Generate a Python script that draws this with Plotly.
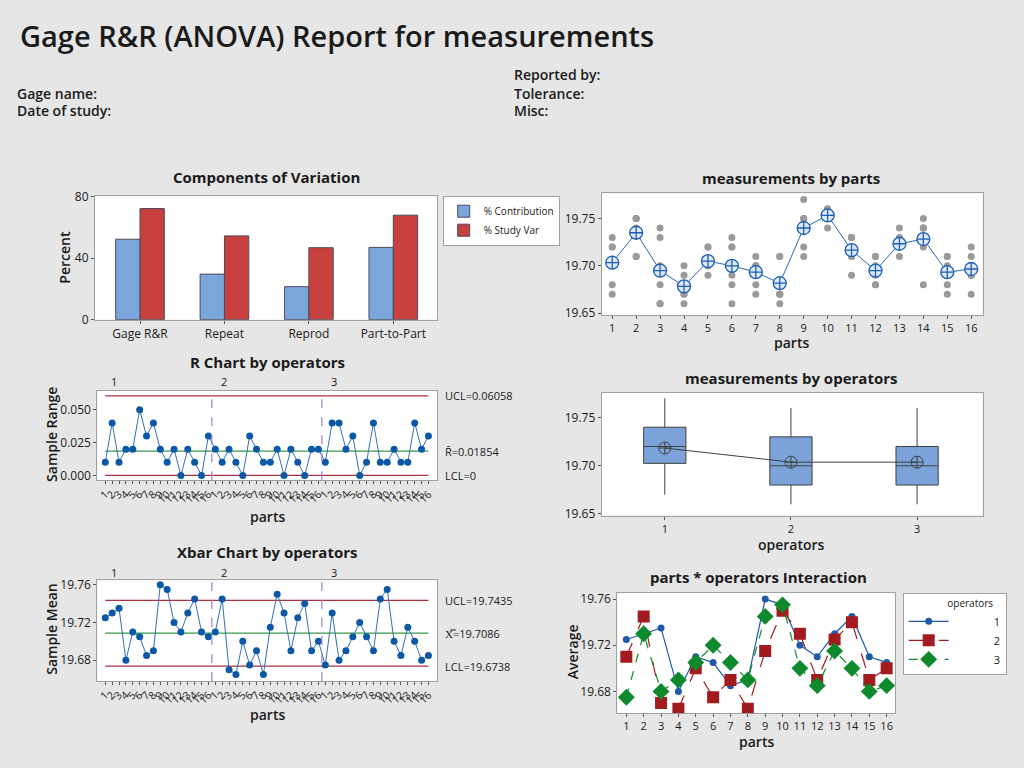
import numpy as np
import plotly.graph_objects as go

# ---------------- data ----------------
components = ["Gage R&R", "Repeat", "Reprod", "Part-to-Part"]
pct_contribution = [52.3, 29.6, 21.4, 47.0]
pct_study_var = [72.3, 54.5, 46.8, 68.0]

parts = list(range(1, 17))
operators = [1, 2, 3]

# two trials per operator for each part
op1_trial1 = [19.72, 19.71, 19.73, 19.67, 19.70, 19.68, 19.67, 19.67, 19.75, 19.75, 19.71, 19.71, 19.72, 19.74, 19.71, 19.69]
op1_trial2 = [19.73, 19.75, 19.74, 19.69, 19.72, 19.73, 19.70, 19.71, 19.77, 19.76, 19.73, 19.71, 19.74, 19.75, 19.71, 19.72]
op2_trial1 = [19.70, 19.74, 19.66, 19.66, 19.70, 19.66, 19.68, 19.66, 19.71, 19.74, 19.73, 19.68, 19.72, 19.74, 19.68, 19.69]
op2_trial2 = [19.72, 19.75, 19.68, 19.67, 19.70, 19.69, 19.70, 19.67, 19.72, 19.76, 19.73, 19.70, 19.73, 19.74, 19.70, 19.71]
op3_trial1 = [19.67, 19.71, 19.66, 19.68, 19.69, 19.72, 19.70, 19.67, 19.74, 19.75, 19.69, 19.68, 19.71, 19.68, 19.67, 19.67]
op3_trial2 = [19.68, 19.75, 19.70, 19.70, 19.72, 19.72, 19.71, 19.71, 19.75, 19.76, 19.71, 19.69, 19.72, 19.72, 19.69, 19.70]

D4_n2 = 3.267
A2_n2 = 1.880

# ---------------- statistics ----------------
trials = {1: (op1_trial1, op1_trial2), 2: (op2_trial1, op2_trial2), 3: (op3_trial1, op3_trial2)}
op_means = {o: np.round((np.array(a) + np.array(b)) / 2, 4) for o, (a, b) in trials.items()}
op_ranges = {o: np.round(np.abs(np.array(b) - np.array(a)), 4) for o, (a, b) in trials.items()}

seq = list(range(1, 49))
seq_labels = [str(p) for o in operators for p in parts]
r_vals = np.concatenate([op_ranges[o] for o in operators])
xbar_vals = np.concatenate([op_means[o] for o in operators])
rbar = r_vals.mean()
ucl_r = D4_n2 * rbar
lcl_r = 0.0
xbarbar = xbar_vals.mean()
ucl_x = xbarbar + A2_n2 * rbar
lcl_x = xbarbar - A2_n2 * rbar

part_x, part_y = [], []
for o in operators:
    for t in trials[o]:
        part_x += parts
        part_y += list(t)
part_means = [np.mean([trials[o][k][i] for o in operators for k in range(2)]) for i in range(16)]

op_all = {o: np.array(trials[o][0] + trials[o][1]) for o in operators}

def box_stats(v):
    q1, med, q3 = np.percentile(v, [25, 50, 75], method="weibull")
    iqr = q3 - q1
    lo = v[v >= q1 - 1.5 * iqr].min()
    hi = v[v <= q3 + 1.5 * iqr].max()
    return q1, med, q3, lo, hi

W, H = 1024, 768
def PX(x): return x / W
def PY(y): return 1 - y / H

FONT = "Open Sans"
BG = "#e6e6e6"
AX = "#a0a0a0"
TXT = "#1a1a1a"

fig = go.Figure()

# --- Components of Variation ---
fig.add_trace(go.Bar(x=components, y=pct_contribution, name="% Contribution",
                     marker=dict(color="#7ba6dc", line=dict(color="#4a4a5a", width=1)),
                     xaxis="x", yaxis="y", legend="legend"))
fig.add_trace(go.Bar(x=components, y=pct_study_var, name="% Study Var",
                     marker=dict(color="#c9413f", line=dict(color="#4a4a5a", width=1)),
                     xaxis="x", yaxis="y", legend="legend"))

# --- R chart ---
RED = "#a8323f"
GRN = "#3b9a4b"
DBL = "#0b58a6"
LBL = "#3070b8"
fig.add_trace(go.Scatter(x=[1, 48], y=[ucl_r, ucl_r], mode="lines", line=dict(color=RED, width=1.2),
                         xaxis="x2", yaxis="y2", showlegend=False))
fig.add_trace(go.Scatter(x=[1, 48], y=[rbar, rbar], mode="lines", line=dict(color=GRN, width=1.2),
                         xaxis="x2", yaxis="y2", showlegend=False))
fig.add_trace(go.Scatter(x=[1, 48], y=[lcl_r, lcl_r], mode="lines", line=dict(color=RED, width=1.2),
                         xaxis="x2", yaxis="y2", showlegend=False))
fig.add_trace(go.Scatter(x=seq, y=r_vals, mode="lines+markers", line=dict(color=LBL, width=1),
                         marker=dict(color=DBL, size=7), xaxis="x2", yaxis="y2", showlegend=False))

# --- Xbar chart ---
fig.add_trace(go.Scatter(x=[1, 48], y=[ucl_x, ucl_x], mode="lines", line=dict(color=RED, width=1.2),
                         xaxis="x3", yaxis="y3", showlegend=False))
fig.add_trace(go.Scatter(x=[1, 48], y=[xbarbar, xbarbar], mode="lines", line=dict(color=GRN, width=1.2),
                         xaxis="x3", yaxis="y3", showlegend=False))
fig.add_trace(go.Scatter(x=[1, 48], y=[lcl_x, lcl_x], mode="lines", line=dict(color=RED, width=1.2),
                         xaxis="x3", yaxis="y3", showlegend=False))
fig.add_trace(go.Scatter(x=seq, y=xbar_vals, mode="lines+markers", line=dict(color=LBL, width=1),
                         marker=dict(color=DBL, size=7), xaxis="x3", yaxis="y3", showlegend=False))

# --- measurements by parts ---
fig.add_trace(go.Scatter(x=part_x, y=part_y, mode="markers", marker=dict(color="#9a9a9a", size=7),
                         xaxis="x4", yaxis="y4", showlegend=False))
fig.add_trace(go.Scatter(x=parts, y=part_means, mode="lines+markers", line=dict(color="#2a68b5", width=1),
                         marker=dict(symbol="circle-cross", size=13, color="#dde9f8",
                                     line=dict(color="#1f5fb0", width=1.3)),
                         xaxis="x4", yaxis="y4", showlegend=False))

# --- measurements by operators (box) ---
for o in operators:
    q1, med, q3, lo, hi = box_stats(op_all[o])
    fig.add_trace(go.Box(x=[o], q1=[q1], median=[med], q3=[q3], lowerfence=[lo], upperfence=[hi],
                         fillcolor="#7ba3d9", line=dict(color="#404040", width=1), width=0.335,
                         whiskerwidth=0, xaxis="x5", yaxis="y5", showlegend=False, boxpoints=False))
fig.add_trace(go.Scatter(x=operators, y=[op_all[o].mean() for o in operators], mode="lines+markers",
                         line=dict(color="#404040", width=1),
                         marker=dict(symbol="circle-cross-open", size=12, color="#404040", line=dict(width=1)),
                         xaxis="x5", yaxis="y5", showlegend=False))

# --- interaction ---
NB = "\u00a0"
inter_style = {
    1: dict(color="#1f5aa6", dash="solid", symbol="circle", size=7),
    2: dict(color="#a11b1f", dash="longdash", symbol="square", size=12),
    3: dict(color="#0e8a2c", dash="dash", symbol="diamond", size=13),
}
for o in operators:
    s = inter_style[o]
    fig.add_trace(go.Scatter(x=parts, y=op_means[o], mode="lines+markers", name=NB * 14 + str(o),
                             line=dict(color=s["color"], dash=s["dash"], width=1.2),
                             marker=dict(color=s["color"], symbol=s["symbol"], size=s["size"]),
                             xaxis="x6", yaxis="y6", legend="legend2"))

def axis(domain, anchor, **kw):
    d = dict(domain=domain, anchor=anchor, showline=True, mirror=True, linecolor=AX, linewidth=1,
             ticks="outside", ticklen=3, tickcolor="#555555", showgrid=False, zeroline=False,
             tickfont=dict(family=FONT, size=12, color=TXT), fixedrange=True)
    d.update(kw)
    return d

# domains in pixels
xd_left = [PX(95), PX(436.7)]
xd_lr = [PX(97.3), PX(436.7)]
xd_right = [PX(601.7), PX(982.7)]
xd_int = [PX(617.3), PX(895)]

layout = dict(
    width=W, height=H, margin=dict(l=0, r=0, t=0, b=0),
    paper_bgcolor=BG, plot_bgcolor="white",
    font=dict(family=FONT, color=TXT),
    barmode="group", bargap=0.424, bargroupgap=0,
    xaxis=axis(xd_left, "y", range=[-0.533, 3.514], tickfont=dict(family=FONT, size=12, color=TXT)),
    yaxis=axis([PY(318.3), PY(192.3)], "x", range=[-0.1, 80.3], tickvals=[0, 40, 80]),
    xaxis2=axis(xd_lr, "y2", range=[-0.16, 49.2], tickvals=seq, ticktext=seq_labels, tickangle=-45,
                tickfont=dict(family=FONT, size=10.5, color=TXT), ticklen=3),
    yaxis2=axis([PY(482.3), PY(391)], "x2", range=[-0.0037, 0.0644], tickvals=[0, 0.025, 0.05],
                tickformat=".3f"),
    xaxis3=axis(xd_lr, "y3", range=[-0.16, 49.2], tickvals=seq, ticktext=seq_labels, tickangle=-45,
                tickfont=dict(family=FONT, size=10.5, color=TXT), ticklen=3),
    yaxis3=axis([PY(687.3), PY(584.3)], "x3", range=[19.658, 19.7649], tickvals=[19.68, 19.72, 19.76],
                tickformat=".2f"),
    xaxis4=axis(xd_right, "y4", range=[0.56, 16.48], tickvals=parts,
                tickfont=dict(family=FONT, size=11, color=TXT)),
    yaxis4=axis([PY(313.3), PY(189.3)], "x4", range=[19.6483, 19.7766], tickvals=[19.65, 19.70, 19.75],
                tickformat=".2f"),
    xaxis5=axis(xd_right, "y5", range=[0.5, 3.52], tickvals=operators, type="linear",
                tickfont=dict(family=FONT, size=11, color=TXT)),
    yaxis5=axis([PY(518.3), PY(393.3)], "x5", range=[19.6484, 19.7754], tickvals=[19.65, 19.70, 19.75],
                tickformat=".2f"),
    xaxis6=axis(xd_int, "y6", range=[0.48, 16.48], tickvals=parts,
                tickfont=dict(family=FONT, size=11, color=TXT)),
    yaxis6=axis([PY(720), PY(597.3)], "x6", range=[19.6613, 19.7654], tickvals=[19.68, 19.72, 19.76],
                tickformat=".2f"),
    legend=dict(x=PX(442.7), y=PY(191.7), xanchor="left", yanchor="top", bgcolor="white",
                bordercolor=AX, borderwidth=1, font=dict(family=FONT, size=10, color=TXT),
                tracegroupgap=0, itemwidth=30),
    legend2=dict(x=PX(902.7), y=PY(597.3), xanchor="left", yanchor="top", bgcolor="white",
                 bordercolor=AX, borderwidth=1, font=dict(family=FONT, size=11, color=TXT),
                 title=dict(text=NB * 16 + "operators", font=dict(family=FONT, size=10, color=TXT)),
                 tracegroupgap=0, itemwidth=40),
    showlegend=True,
)
fig.update_layout(**layout)

ann = []
def text(x, y, s, size=12, weight=400, xanchor="center", yanchor="middle", angle=0, xref="paper", yref="paper",
         xshift=0, color=TXT):
    ann.append(dict(x=x, y=y, xref=xref, yref=yref, text=s, showarrow=False, xanchor=xanchor, yanchor=yanchor,
                    textangle=angle, xshift=xshift,
                    font=dict(family=FONT, size=size, color=color, weight=weight)))

# header
text(PX(18), PY(28), "Gage R&R (ANOVA) Report for measurements", size=29, weight=600, xanchor="left")
text(PX(15), PY(87), "Gage name:", size=14, weight=600, xanchor="left")
text(PX(15), PY(105), "Date of study:", size=14, weight=600, xanchor="left")
text(PX(512), PY(68), "Reported by:", size=14, weight=600, xanchor="left")
text(PX(512), PY(87), "Tolerance:", size=14, weight=600, xanchor="left")
text(PX(512), PY(105), "Misc:", size=14, weight=600, xanchor="left")

# panel titles
text(PX(266), PY(173), "Components of Variation", size=15, weight=700)
text(PX(267), PY(362), "R Chart by operators", size=15, weight=700)
text(PX(267), PY(556), "Xbar Chart by operators", size=15, weight=700)
text(PX(791), PY(174), "measurements by parts", size=15, weight=700)
text(PX(791), PY(378), "measurements by operators", size=15, weight=700)
text(PX(758), PY(581), "parts * operators Interaction", size=15, weight=700)

# axis titles
text(PX(65), PY(255), "Percent", size=14, weight=600, angle=-90)
text(PX(52), PY(436), "Sample Range", size=14, weight=600, angle=-90)
text(PX(52), PY(635), "Sample Mean", size=14, weight=600, angle=-90)
text(PX(267), PY(519), "parts", size=14, weight=600)
text(PX(267), PY(722), "parts", size=14, weight=600)
text(PX(791), PY(342), "parts", size=14, weight=600)
text(PX(791), PY(548), "operators", size=14, weight=600)
text(PX(572), PY(658), "Average", size=14, weight=600, angle=-90)
text(PX(756), PY(749), "parts", size=14, weight=600)

# operator group labels on top of control charts
for i, o in enumerate(operators):
    text(1 + 16 * i, PY(381), str(o), size=11, xref="x2", xshift=9)
    text(1 + 16 * i, PY(576), str(o), size=11, xref="x3", xshift=9)

# control limit labels
text(PX(443), ucl_r, f"UCL={ucl_r:.5f}", size=11, xanchor="left", yref="y2")
text(PX(443), rbar, f"R\u0304={rbar:.5f}", size=11, xanchor="left", yref="y2")
text(PX(443), lcl_r, f"LCL={lcl_r:.0f}", size=11, xanchor="left", yref="y2")
text(PX(443), ucl_x, f"UCL={ucl_x:.4f}", size=11, xanchor="left", yref="y3")
text(PX(443), xbarbar, f"X\u033F={xbarbar:.4f}", size=11, xanchor="left", yref="y3")
text(PX(443), lcl_x, f"LCL={lcl_x:.4f}", size=11, xanchor="left", yref="y3")

shapes = []
for xr, yr in [("x2", "y2"), ("x3", "y3")]:
    for xv in [16.5, 32.5]:
        shapes.append(dict(type="line", xref=xr, yref=yr + " domain", x0=xv, x1=xv, y0=0, y1=1,
                           line=dict(color="#9b7fd4", width=1.2, dash="dash")))

fig.update_layout(annotations=ann, shapes=shapes)
fig.write_html("out.html", config={"displayModeBar": False},
               post_script="document.body.style.margin='0';document.body.style.padding='0';"
                           "document.body.style.overflow='hidden';")
